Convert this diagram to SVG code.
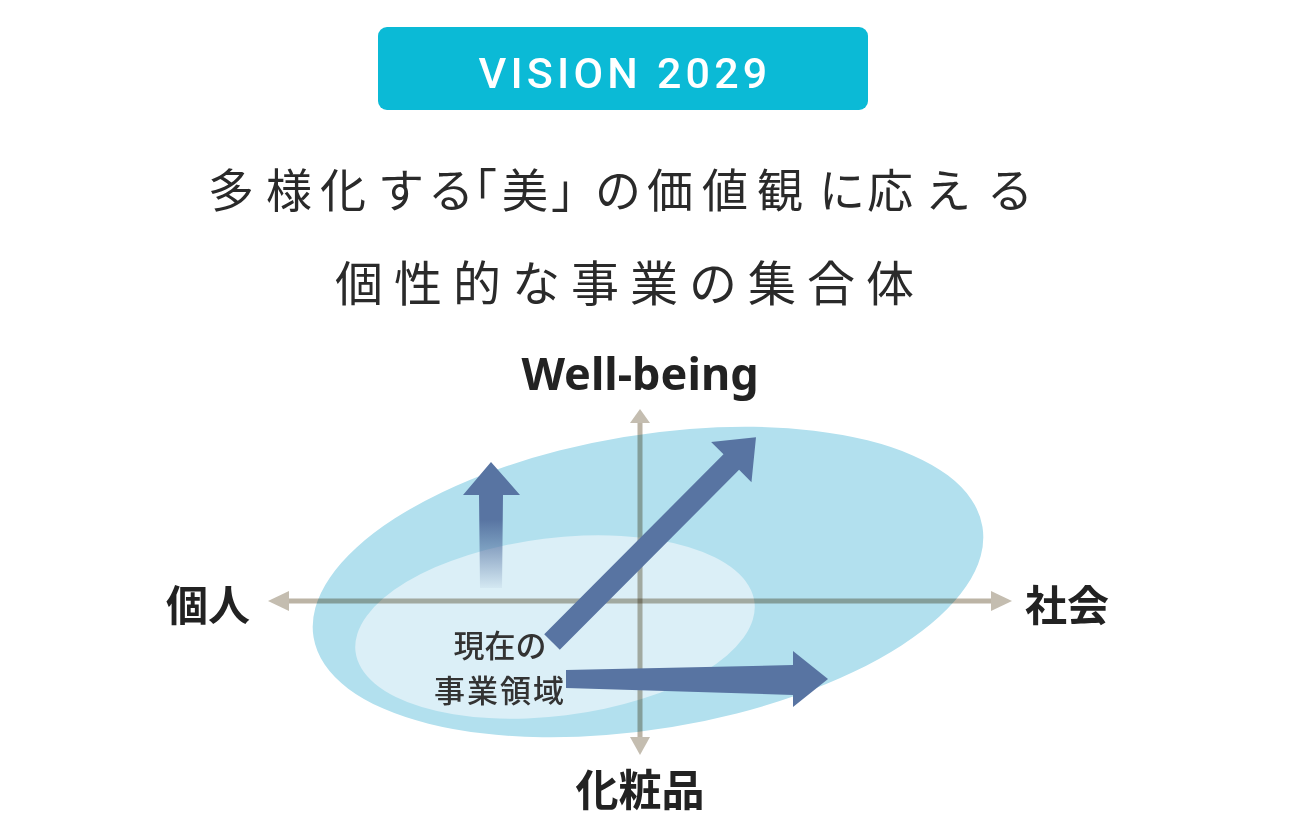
<svg xmlns="http://www.w3.org/2000/svg" width="1290" height="840" viewBox="0 0 1290 840">
<defs>
<style>
.ttl{font-family:"Noto Sans CJK JP","Noto Sans",sans-serif;font-weight:400;fill:#2a2a2a}
.lbl{font-family:"Noto Sans CJK JP","Noto Sans",sans-serif;font-weight:700;fill:#222;text-anchor:middle}
.cur{font-family:"Noto Sans CJK JP","Noto Sans",sans-serif;font-weight:500;fill:#333;text-anchor:middle;font-size:31px}
.ax{stroke:#bcb4a5;stroke-width:5;fill:none;mix-blend-mode:multiply}
.axh{fill:#c4bdb0}
.blue{fill:#5874a2}
</style>
<linearGradient id="fade" gradientUnits="userSpaceOnUse" x1="0" y1="462" x2="0" y2="590">
<stop offset="0" stop-color="#5874a2" stop-opacity="1"/>
<stop offset="0.45" stop-color="#5874a2" stop-opacity="1"/>
<stop offset="1" stop-color="#5874a2" stop-opacity="0.03"/>
</linearGradient>
</defs>
<rect width="1290" height="840" fill="#fff"/>
<g id="header">
<rect x="378" y="27" width="490" height="83" rx="9" fill="#0bbad6"/>
<text x="625" y="88" font-family="Roboto,'Liberation Sans',sans-serif" font-weight="500" font-size="43" fill="#fff" text-anchor="middle" letter-spacing="4.2">VISION 2029</text>
</g>
<g id="title">
<text class="ttl" x="208 266 320 378 428 451 502 551 595 647 702 757 819 867 925 987" y="207" font-size="46">多様化する「美」の価値観に応える</text>
<text class="ttl" x="630" y="301" font-size="48" letter-spacing="11" text-anchor="middle">個性的な事業の集合体</text>
</g>
<g id="areas">
<ellipse id="future-area" cx="648" cy="582" rx="339" ry="147" transform="rotate(-9.4 648 582)" fill="#b2e0ee"/>
<ellipse id="current-area" cx="555" cy="627" rx="201" ry="89" transform="rotate(-7.1 555 627)" fill="#dbeff7"/>
</g>
<g id="axes">
<line class="ax" x1="288" y1="601" x2="992" y2="601"/>
<line class="ax" x1="640" y1="422" x2="640" y2="738"/>
<polygon class="axh" points="268,601 289,591 289,611"/>
<polygon class="axh" points="1012,601 991,591 991,611"/>
<polygon class="axh" points="640,409 630,423 650,423"/>
<polygon class="axh" points="640,755 630,737 650,737"/>
</g>
<g id="connectors">
<polygon fill="url(#fade)" points="480,588 479,495 463,495 491,462 520,495 503,495 502,588"/>
<path class="blue" d="M0,-11 L254,-11 L254,-28.5 L289,0 L254,28.5 L254,11 L0,11 Z" transform="translate(552,642) rotate(-45.1)"/>
<polygon class="blue" points="566,670 793,665 793,651 828,679 793,707 793,695 566,688"/>
</g>
<g id="labels">
<text class="lbl" x="640" y="390" font-size="45" style="font-family:'Noto Sans',sans-serif">Well-being</text>
<text class="lbl" x="208" y="621" font-size="42">個人</text>
<text class="lbl" x="1067" y="621" font-size="42">社会</text>
<text class="lbl" x="640" y="806" font-size="43">化粧品</text>
</g>
<g id="current-label">
<text class="cur" x="500" y="657">現在の</text>
<text class="cur" x="500" y="702" letter-spacing="2">事業領域</text>
</g>
</svg>
